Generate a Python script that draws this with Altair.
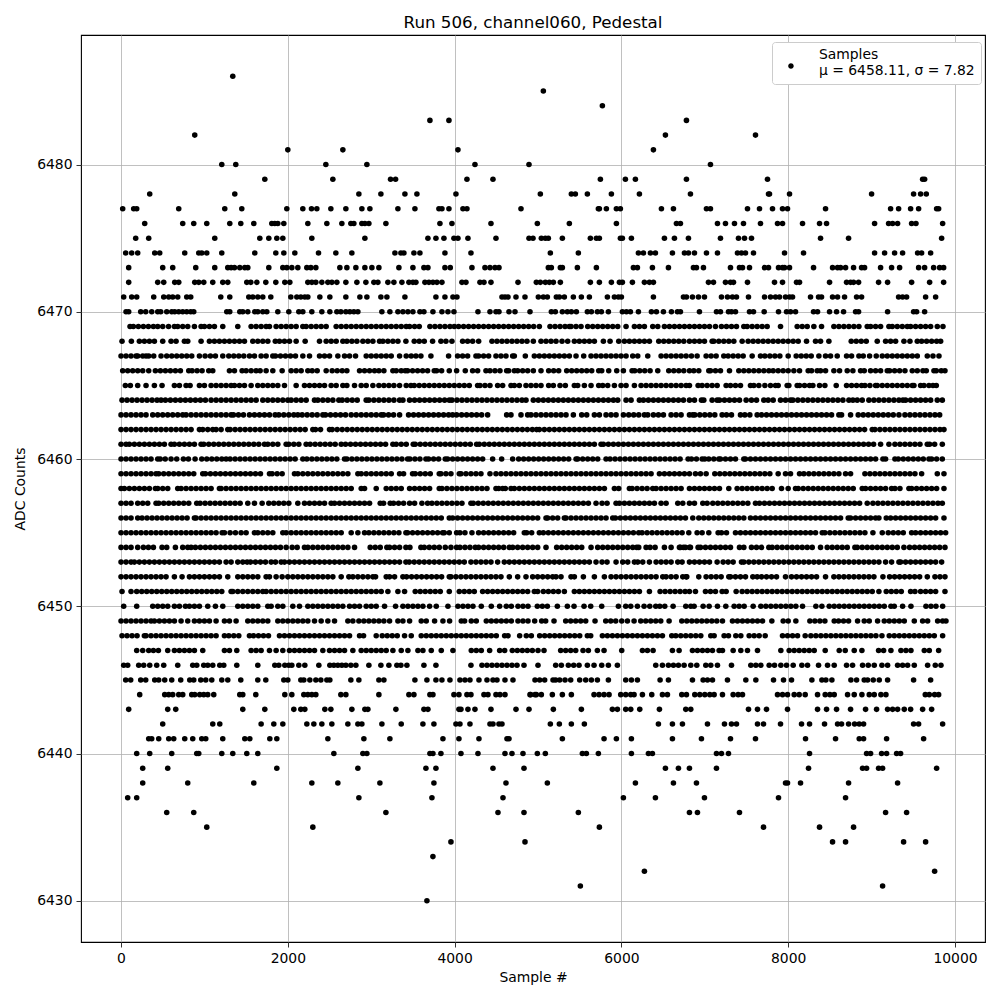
import altair as alt
import pandas as pd

title = "Run 506, channel060, Pedestal"
legend_lines = ["Samples", "\u03bc = 6458.11, \u03c3 = 7.82"]
x_ticks = [0, 2000, 4000, 6000, 8000, 10000]
y_ticks = [6430, 6440, 6450, 6460, 6470, 6480]

s6486 = [1340]
s6485 = [5064]
s6484 = [5772]
s6483 = [3704, 3932, 6780]
s6482 = [884, 6528, 7608]
s6481 = [2000, 2660, 4040, 6384]
s6480 = [1208, 1376, 2456, 2948, 4244, 4892, 7068]
s6479 = [1724, 2540, 3232, 3292, 4148, 4460, 5748, 6048, 6168, 6780, 7752, 9612, 9636]
s6478 = [344, 1364, 2852, 3116, 3404, 3548, 4016, 5028, 5400, 5448, 5592, 5880, 6216, 6828, 7764, 7776, 8016, 9000, 9504, 9588, 9656]
s6477 = [20, 152, 188, 692, 1244, 1448, 1988, 2180, 2284, 2348, 2516, 2696, 2888, 2984, 3320, 3524, 3812, 3848, 3932, 4100, 4148, 4796, 5724, 5736, 5820, 5940, 5988, 6480, 6624, 7020, 7068, 7512, 7656, 7812, 7932, 7992, 8448, 9228, 9324, 9468, 9564, 9780, 9804]
s6476 = [284, 740, 872, 1028, 1304, 1436, 1592, 1808, 1844, 1880, 1952, 2240, 2468, 2648, 2756, 2792, 2888, 2924, 2972, 3176, 3824, 3968, 4436, 4992, 5376, 5940, 6660, 6708, 7152, 7248, 7356, 7464, 7668, 7872, 7932, 8172, 8376, 8460, 9036, 9204, 9252, 9312, 9480, 9532, 9852]
s6475 = [176, 332, 1124, 1664, 1772, 1868, 1940, 2288, 2924, 3680, 3776, 3872, 3992, 4040, 4160, 4496, 4892, 4940, 5040, 5088, 5124, 5292, 5628, 5700, 5736, 5988, 6012, 6120, 6516, 6636, 6804, 7188, 7404, 7476, 7560, 8388, 8724, 9840]
s6474 = [56, 128, 200, 404, 464, 764, 932, 968, 1028, 1208, 1604, 1856, 1952, 2084, 2368, 2576, 2768, 3284, 3356, 3392, 3512, 3584, 3884, 4196, 5148, 5484, 6204, 6264, 6348, 6408, 6612, 6756, 6804, 6876, 7020, 7152, 7392, 7440, 7488, 7584, 7956, 8184, 9036, 9156, 9276, 9372, 9552, 9600, 9708]
s6473 = [92, 500, 620, 896, 1124, 1280, 1320, 1360, 1424, 1484, 1520, 1772, 1940, 1988, 2048, 2120, 2228, 2276, 2336, 2624, 2708, 2816, 2924, 3008, 3092, 3332, 3500, 3632, 3680, 3884, 3948, 4208, 4364, 4424, 4484, 4532, 5124, 5160, 5268, 5292, 5472, 5700, 6144, 6192, 6372, 6564, 6864, 6900, 6984, 7308, 7416, 7452, 7536, 7716, 7764, 7884, 7932, 7956, 8016, 8304, 8532, 8592, 8628, 8688, 8784, 8880, 8916, 9108, 9240, 9336, 9564, 9636, 9744, 9816, 9864]
s6472 = [92, 440, 512, 644, 692, 884, 932, 992, 1100, 1220, 1280, 1508, 1556, 1628, 1736, 1856, 1964, 2024, 2240, 2288, 2336, 2408, 2480, 2528, 2588, 2696, 2828, 2936, 3032, 3080, 3200, 3272, 3368, 3452, 3500, 3536, 3644, 3692, 3740, 3788, 3848, 4088, 4136, 4304, 4352, 4436, 4760, 4980, 5028, 5088, 5136, 5184, 5268, 5628, 5736, 5880, 5976, 6012, 6132, 6276, 6336, 6384, 7044, 7104, 7248, 7308, 7344, 7512, 7836, 7932, 8100, 8136, 8496, 8700, 8748, 8784, 8844, 9084, 9192, 9480, 9696, 9864]
s6471 = [32, 128, 188, 392, 512, 572, 620, 680, 788, 836, 1196, 1304, 1532, 1580, 1640, 1700, 1796, 2036, 2108, 2156, 2204, 2240, 2384, 2504, 2696, 2864, 2948, 3116, 3188, 3404, 3776, 3884, 3980, 4028, 4568, 4604, 4640, 4736, 4844, 5004, 5064, 5112, 5220, 5256, 5316, 5424, 5520, 5616, 5832, 5916, 5964, 6000, 6384, 6744, 6780, 6852, 6924, 6996, 7200, 7272, 7332, 7380, 7524, 7716, 7788, 7848, 7896, 7968, 8016, 8052, 8268, 8364, 8400, 8532, 8592, 8676, 8820, 8880, 9324, 9372, 9420, 9648, 9768]
s6470 = [60, 92, 236, 296, 368, 440, 476, 548, 608, 644, 692, 740, 788, 836, 872, 1268, 1304, 1424, 1460, 1520, 1604, 1640, 1700, 1748, 1880, 2012, 2132, 2180, 2288, 2408, 2504, 2588, 2636, 2696, 2744, 2792, 2840, 3128, 3224, 3320, 3380, 3440, 3500, 3584, 3632, 3740, 3848, 3920, 3992, 4280, 4424, 4496, 4532, 4652, 4724, 4904, 5160, 5208, 5292, 5352, 5400, 5460, 5592, 5640, 5712, 5760, 5844, 6012, 6060, 6108, 6204, 6360, 6420, 6504, 6600, 6672, 6708, 6936, 7140, 7188, 7284, 7320, 7368, 7536, 7584, 7712, 7884, 7980, 8028, 8088, 8304, 8352, 8496, 8580, 8664, 8808, 8844, 9192, 9504, 9540, 9636]
s6469 = [108, 148, 208, 268, 328, 388, 440, 500, 570, 640, 680, 740, 800, 880, 960, 1000, 1060, 1120, 1220, 1400, 1560, 1620, 1680, 1740, 1780, 1860, 1920, 1980, 2040, 2100, 2180, 2220, 2280, 2340, 2400, 2460, 2580, 2640, 2700, 2760, 2820, 2880, 2940, 3000, 3060, 3120, 3180, 3240, 3300, 3360, 3420, 3460, 3520, 3576, 3704, 3764, 3824, 3884, 3944, 3996, 4048, 4108, 4168, 4228, 4288, 4348, 4408, 4468, 4528, 4588, 4648, 4708, 4768, 4828, 4888, 4948, 5016, 5144, 5204, 5264, 5324, 5376, 5396, 5456, 5516, 5596, 5656, 5716, 5776, 5836, 5896, 5956, 6056, 6156, 6216, 6276, 6376, 6436, 6516, 6576, 6636, 6696, 6756, 6816, 6876, 6936, 6996, 7056, 7128, 7200, 7260, 7320, 7380, 7468, 7508, 7568, 7628, 7688, 7748, 7908, 8108, 8168, 8228, 8308, 8400, 8548, 8608, 8668, 8728, 8788, 8848, 8948, 8988, 9048, 9108, 9208, 9248, 9308, 9368, 9428, 9468, 9528, 9588, 9648, 9708, 9788, 9856]
s6468 = [12, 124, 220, 280, 340, 400, 500, 600, 660, 760, 800, 960, 1060, 1120, 1180, 1240, 1300, 1360, 1420, 1480, 1580, 1640, 1700, 1760, 1850, 1900, 1960, 2020, 2100, 2208, 2380, 2460, 2520, 2580, 2660, 2708, 2768, 2828, 2900, 2960, 3020, 3100, 3140, 3200, 3260, 3320, 3416, 3516, 3576, 3636, 3736, 3836, 3896, 3968, 4096, 4156, 4216, 4288, 4448, 4508, 4568, 4628, 4688, 4748, 4808, 4868, 4944, 5036, 5096, 5156, 5216, 5288, 5356, 5436, 5496, 5556, 5616, 5676, 5784, 5864, 5968, 6036, 6096, 6156, 6216, 6276, 6336, 6448, 6508, 6568, 6628, 6688, 6748, 6816, 6876, 6936, 6996, 7088, 7108, 7168, 7228, 7288, 7348, 7448, 7520, 7580, 7640, 7700, 7760, 7820, 7880, 7940, 8000, 8060, 8120, 8220, 8328, 8388, 8488, 8756, 8816, 8876, 8936, 9068, 9168, 9228, 9288, 9388, 9460, 9548, 9600, 9660, 9720, 9780, 9828]
s6467 = [0, 60, 120, 180, 200, 260, 300, 332, 392, 480, 548, 608, 668, 728, 788, 848, 940, 1008, 1072, 1132, 1220, 1292, 1352, 1412, 1472, 1540, 1600, 1680, 1740, 1820, 1852, 1912, 1972, 2032, 2092, 2180, 2260, 2380, 2440, 2500, 2600, 2680, 2740, 2812, 2940, 3000, 3060, 3120, 3180, 3240, 3340, 3420, 3480, 3536, 3596, 3716, 3928, 4036, 4096, 4156, 4256, 4288, 4348, 4408, 4496, 4556, 4616, 4696, 4716, 4848, 4956, 5016, 5076, 5136, 5196, 5256, 5316, 5376, 5456, 5548, 5636, 5696, 5756, 5816, 5876, 5936, 5996, 6056, 6136, 6196, 6316, 6476, 6536, 6596, 6656, 6716, 6776, 6840, 6908, 7016, 7076, 7136, 7228, 7280, 7340, 7400, 7460, 7568, 7668, 7720, 7780, 7840, 7900, 8000, 8096, 8156, 8216, 8276, 8368, 8448, 8508, 8588, 8700, 8760, 8848, 8900, 8976, 9056, 9128, 9188, 9248, 9308, 9368, 9428, 9488, 9548, 9668, 9736, 9808]
s6466 = [20, 80, 140, 200, 260, 332, 412, 472, 532, 592, 652, 712, 812, 852, 912, 972, 1052, 1100, 1300, 1360, 1452, 1500, 1560, 1620, 1668, 1740, 1820, 1932, 2040, 2100, 2160, 2240, 2292, 2352, 2460, 2532, 2592, 2652, 2708, 2860, 2920, 2980, 3040, 3092, 3152, 3260, 3300, 3360, 3408, 3436, 3496, 3556, 3616, 3676, 3756, 3784, 3844, 3936, 4024, 4128, 4216, 4276, 4376, 4424, 4484, 4544, 4624, 4648, 4716, 4756, 4816, 4876, 4944, 5036, 5128, 5188, 5248, 5344, 5404, 5464, 5524, 5584, 5644, 5728, 5764, 5848, 5944, 6024, 6128, 6160, 6220, 6280, 6344, 6436, 6568, 6628, 6688, 6748, 6816, 6868, 6928, 7048, 7068, 7128, 7188, 7296, 7408, 7468, 7528, 7588, 7648, 7708, 7768, 7820, 7880, 7940, 8000, 8068, 8136, 8240, 8280, 8348, 8388, 8448, 8548, 8616, 8708, 8776, 8868, 8912, 8988, 9048, 9108, 9188, 9216, 9276, 9336, 9400, 9488, 9548, 9616, 9656, 9748, 9776, 9836, 9880]
s6465 = [52, 112, 200, 300, 400, 492, 640, 700, 780, 828, 940, 1000, 1080, 1140, 1200, 1260, 1320, 1360, 1420, 1480, 1560, 1640, 1700, 1760, 1820, 1880, 1960, 2100, 2200, 2260, 2320, 2380, 2440, 2520, 2580, 2660, 2708, 2800, 2880, 2940, 3020, 3092, 3152, 3212, 3272, 3340, 3420, 3476, 3516, 3576, 3636, 3696, 3756, 3816, 3876, 3936, 3996, 4056, 4116, 4176, 4276, 4304, 4364, 4424, 4516, 4576, 4676, 4716, 4776, 4856, 4916, 4976, 5036, 5128, 5184, 5264, 5328, 5436, 5476, 5556, 5636, 5728, 5776, 5836, 5916, 5996, 6056, 6156, 6236, 6296, 6356, 6416, 6476, 6536, 6596, 6656, 6716, 6776, 6816, 6920, 6968, 7028, 7088, 7148, 7256, 7308, 7368, 7428, 7548, 7588, 7648, 7720, 7788, 7848, 7880, 7988, 8008, 8108, 8136, 8196, 8256, 8296, 8376, 8440, 8576, 8700, 8760, 8820, 8880, 8920, 8980, 9048, 9068, 9128, 9188, 9248, 9308, 9368, 9428, 9488, 9508, 9588, 9628, 9688, 9736, 9776]
s6464 = [12, 72, 132, 192, 252, 312, 372, 432, 480, 532, 592, 652, 712, 772, 832, 892, 952, 1012, 1080, 1140, 1200, 1260, 1320, 1380, 1440, 1500, 1560, 1620, 1700, 1760, 1820, 1880, 1940, 2000, 2040, 2100, 2160, 2220, 2320, 2360, 2420, 2480, 2540, 2612, 2652, 2712, 2772, 2832, 2940, 2972, 3032, 3092, 3152, 3212, 3272, 3340, 3380, 3460, 3520, 3580, 3640, 3700, 3760, 3820, 3880, 3936, 3968, 4028, 4088, 4148, 4208, 4268, 4328, 4388, 4448, 4508, 4568, 4628, 4688, 4748, 4808, 4856, 4944, 5004, 5064, 5124, 5184, 5244, 5304, 5364, 5424, 5484, 5544, 5604, 5664, 5724, 5784, 5844, 5904, 5956, 6056, 6116, 6216, 6264, 6324, 6384, 6444, 6504, 6564, 6624, 6684, 6744, 6816, 6876, 6960, 6988, 7088, 7148, 7176, 7236, 7296, 7356, 7416, 7496, 7560, 7620, 7708, 7760, 7820, 7908, 7968, 8028, 8056, 8116, 8176, 8236, 8296, 8356, 8416, 8476, 8536, 8596, 8656, 8728, 8776, 8828, 8888, 8968, 9028, 9088, 9148, 9208, 9268, 9328, 9376, 9408, 9468, 9528, 9588, 9648, 9708, 9788, 9848]
s6463 = [0, 60, 120, 180, 240, 300, 380, 440, 500, 560, 620, 680, 740, 780, 840, 900, 960, 1020, 1080, 1140, 1200, 1260, 1320, 1348, 1408, 1468, 1540, 1600, 1660, 1720, 1780, 1848, 1892, 1952, 2012, 2072, 2120, 2172, 2232, 2292, 2352, 2420, 2452, 2512, 2572, 2632, 2692, 2760, 2820, 2880, 2940, 3000, 3060, 3120, 3148, 3208, 3268, 3340, 3448, 3508, 3568, 3628, 3688, 3748, 3808, 3868, 3928, 3976, 4024, 4084, 4144, 4204, 4264, 4324, 4396, 4624, 4676, 4796, 4876, 4916, 4976, 5036, 5096, 5156, 5216, 5276, 5336, 5424, 5524, 5584, 5676, 5736, 5816, 5876, 5936, 6024, 6088, 6148, 6208, 6276, 6316, 6384, 6444, 6504, 6596, 6656, 6716, 6816, 6856, 6880, 6940, 7000, 7060, 7120, 7208, 7260, 7320, 7428, 7480, 7540, 7628, 7680, 7740, 7800, 7860, 7920, 7980, 8040, 8100, 8160, 8220, 8280, 8340, 8400, 8460, 8520, 8608, 8640, 8748, 8840, 8900, 8960, 9020, 9080, 9140, 9200, 9260, 9328, 9400, 9460, 9520, 9580, 9640, 9700, 9760, 9816]
s6462 = [0, 60, 120, 180, 240, 300, 360, 420, 480, 540, 600, 660, 720, 780, 840, 940, 980, 1040, 1100, 1140, 1200, 1280, 1308, 1368, 1428, 1488, 1548, 1608, 1668, 1728, 1788, 1848, 1908, 1968, 2028, 2088, 2148, 2208, 2300, 2332, 2392, 2500, 2532, 2592, 2652, 2712, 2772, 2832, 2892, 2952, 3012, 3072, 3132, 3192, 3252, 3312, 3372, 3432, 3492, 3552, 3612, 3672, 3732, 3792, 3852, 3912, 3972, 4032, 4092, 4152, 4212, 4272, 4332, 4392, 4452, 4512, 4572, 4632, 4692, 4752, 4812, 4872, 4932, 4984, 5016, 5076, 5136, 5196, 5256, 5316, 5376, 5436, 5496, 5556, 5616, 5676, 5736, 5796, 5856, 5916, 5976, 6036, 6096, 6156, 6216, 6276, 6336, 6396, 6456, 6516, 6576, 6636, 6696, 6756, 6816, 6876, 6936, 6996, 7056, 7116, 7176, 7236, 7296, 7356, 7416, 7476, 7536, 7596, 7656, 7716, 7776, 7836, 7896, 7956, 8016, 8076, 8136, 8196, 8256, 8316, 8376, 8436, 8496, 8556, 8616, 8676, 8736, 8796, 8856, 8916, 9008, 9040, 9100, 9160, 9220, 9280, 9340, 9400, 9460, 9520, 9580, 9640, 9700, 9760, 9820, 9868]
s6461 = [0, 60, 100, 160, 220, 280, 340, 400, 460, 520, 600, 640, 700, 760, 820, 880, 960, 992, 1052, 1112, 1172, 1232, 1292, 1352, 1412, 1472, 1532, 1592, 1652, 1720, 1760, 1820, 1880, 1980, 2012, 2072, 2132, 2220, 2268, 2328, 2388, 2448, 2508, 2568, 2640, 2692, 2752, 2812, 2872, 2932, 2992, 3052, 3112, 3172, 3260, 3300, 3360, 3420, 3504, 3528, 3588, 3648, 3708, 3768, 3828, 3888, 3948, 4008, 4068, 4128, 4188, 4264, 4296, 4356, 4416, 4476, 4536, 4596, 4656, 4716, 4776, 4836, 4896, 4956, 5016, 5076, 5136, 5196, 5256, 5316, 5376, 5436, 5496, 5556, 5616, 5676, 5756, 5784, 5844, 5904, 5964, 6024, 6084, 6144, 6204, 6264, 6324, 6384, 6444, 6504, 6564, 6624, 6684, 6744, 6804, 6864, 6924, 6984, 7044, 7104, 7164, 7224, 7284, 7344, 7404, 7464, 7524, 7584, 7644, 7704, 7764, 7824, 7884, 7944, 8004, 8064, 8124, 8184, 8244, 8304, 8364, 8424, 8484, 8544, 8604, 8664, 8724, 8784, 8844, 8904, 8964, 9024, 9108, 9208, 9280, 9340, 9400, 9460, 9520, 9580, 9668, 9696, 9756, 9848]
s6460 = [0, 60, 120, 180, 240, 300, 360, 440, 470, 530, 600, 668, 748, 808, 888, 968, 1028, 1088, 1148, 1208, 1260, 1308, 1368, 1428, 1488, 1548, 1608, 1668, 1728, 1788, 1848, 1908, 1968, 2028, 2088, 2180, 2228, 2288, 2348, 2408, 2468, 2528, 2588, 2680, 2708, 2768, 2828, 2888, 2948, 3008, 3068, 3128, 3188, 3248, 3308, 3368, 3436, 3464, 3524, 3584, 3656, 3688, 3748, 3808, 3888, 3916, 3976, 4036, 4096, 4156, 4216, 4276, 4336, 4456, 4564, 4696, 4768, 4828, 4888, 4948, 5008, 5068, 5128, 5188, 5248, 5308, 5368, 5456, 5476, 5536, 5596, 5656, 5716, 5816, 5864, 5924, 5984, 6044, 6104, 6164, 6224, 6284, 6344, 6404, 6464, 6524, 6584, 6644, 6704, 6800, 6840, 6900, 6968, 7000, 7048, 7108, 7168, 7188, 7248, 7308, 7368, 7468, 7488, 7548, 7608, 7668, 7728, 7788, 7848, 7908, 7968, 8028, 8088, 8148, 8208, 8268, 8328, 8388, 8448, 8508, 8568, 8628, 8688, 8748, 8808, 8868, 8928, 8988, 9048, 9136, 9168, 9280, 9320, 9380, 9440, 9500, 9560, 9620, 9688, 9720, 9780, 9848]
s6459 = [0, 60, 120, 180, 240, 300, 360, 420, 452, 512, 572, 632, 692, 752, 812, 872, 980, 1012, 1072, 1132, 1192, 1252, 1312, 1372, 1432, 1492, 1552, 1612, 1672, 1780, 1812, 1872, 1932, 2080, 2120, 2180, 2240, 2300, 2360, 2420, 2480, 2540, 2600, 2660, 2720, 2840, 2880, 2940, 3000, 3060, 3120, 3180, 3240, 3340, 3388, 3496, 3528, 3588, 3648, 3708, 3816, 3836, 3896, 3956, 4056, 4076, 4136, 4196, 4256, 4316, 4424, 4496, 4556, 4616, 4676, 4736, 4796, 4856, 4916, 4976, 5036, 5096, 5156, 5216, 5276, 5336, 5396, 5456, 5516, 5576, 5636, 5696, 5756, 5816, 5876, 5936, 5996, 6056, 6116, 6176, 6236, 6296, 6356, 6456, 6516, 6576, 6636, 6696, 6756, 6816, 6888, 6948, 7016, 7120, 7180, 7240, 7300, 7360, 7420, 7480, 7540, 7600, 7660, 7720, 7780, 7880, 7968, 8028, 8136, 8188, 8248, 8308, 8368, 8428, 8488, 8548, 8608, 8688, 8748, 8920, 8980, 9040, 9100, 9160, 9220, 9280, 9340, 9400, 9460, 9520, 9600, 9788, 9868]
s6458 = [0, 40, 100, 160, 220, 280, 340, 412, 440, 500, 560, 680, 720, 780, 840, 900, 960, 1020, 1080, 1180, 1200, 1260, 1320, 1380, 1440, 1500, 1560, 1620, 1680, 1740, 1800, 1860, 1920, 1980, 2040, 2100, 2160, 2220, 2280, 2340, 2400, 2460, 2520, 2580, 2640, 2700, 2760, 2880, 2920, 3060, 3180, 3240, 3300, 3360, 3460, 3520, 3580, 3640, 3700, 3816, 3848, 3908, 3968, 4028, 4088, 4148, 4208, 4268, 4328, 4388, 4496, 4528, 4576, 4608, 4676, 4716, 4776, 4836, 4896, 4956, 5016, 5076, 5136, 5196, 5256, 5316, 5376, 5436, 5496, 5556, 5616, 5676, 5736, 5796, 5916, 5968, 6096, 6128, 6188, 6248, 6308, 6376, 6416, 6476, 6536, 6596, 6656, 6716, 6816, 6876, 6936, 6996, 7056, 7116, 7176, 7288, 7388, 7448, 7508, 7568, 7628, 7688, 7748, 7808, 7920, 8000, 8088, 8120, 8180, 8240, 8300, 8360, 8420, 8480, 8540, 8600, 8660, 8720, 8780, 8888, 8928, 8988, 9048, 9108, 9168, 9240, 9280, 9340, 9448, 9480, 9540, 9600, 9660, 9720, 9780, 9868]
s6457 = [0, 60, 120, 200, 260, 320, 420, 452, 512, 572, 632, 692, 752, 812, 908, 948, 1008, 1068, 1128, 1188, 1248, 1308, 1368, 1428, 1520, 1600, 1692, 1772, 1832, 1892, 1952, 2012, 2120, 2200, 2260, 2320, 2380, 2440, 2520, 2560, 2620, 2680, 2740, 2800, 2860, 2920, 2980, 3108, 3148, 3228, 3268, 3328, 3388, 3460, 3520, 3608, 3676, 3728, 3788, 3848, 3908, 3968, 4028, 4088, 4196, 4224, 4284, 4344, 4404, 4464, 4524, 4584, 4644, 4704, 4764, 4824, 4884, 4944, 5004, 5064, 5124, 5184, 5244, 5304, 5364, 5424, 5484, 5544, 5604, 5696, 5768, 5828, 5936, 5976, 6036, 6096, 6156, 6216, 6276, 6336, 6396, 6476, 6536, 6676, 6736, 6816, 6876, 6976, 7028, 7096, 7156, 7216, 7276, 7336, 7396, 7456, 7516, 7608, 7656, 7716, 7776, 7836, 7896, 7956, 8016, 8076, 8136, 8196, 8256, 8316, 8376, 8436, 8496, 8556, 8616, 8676, 8736, 8796, 8856, 8948, 9016, 9076, 9136, 9196, 9256, 9316, 9376, 9436, 9496, 9556, 9616, 9676, 9736, 9796, 9848]
s6456 = [0, 60, 120, 200, 252, 312, 372, 432, 492, 552, 612, 672, 732, 792, 880, 900, 960, 1020, 1080, 1140, 1200, 1260, 1320, 1380, 1440, 1500, 1560, 1620, 1680, 1740, 1800, 1860, 1920, 1980, 2040, 2100, 2160, 2220, 2280, 2340, 2400, 2460, 2520, 2580, 2640, 2700, 2760, 2820, 2880, 2940, 3000, 3060, 3120, 3180, 3240, 3300, 3360, 3420, 3480, 3540, 3600, 3660, 3720, 3780, 3840, 3936, 3976, 4036, 4096, 4156, 4216, 4276, 4336, 4396, 4456, 4516, 4576, 4636, 4696, 4756, 4816, 4876, 4936, 4996, 5096, 5116, 5176, 5236, 5316, 5336, 5396, 5456, 5516, 5576, 5636, 5696, 5756, 5816, 5896, 5928, 5988, 6048, 6108, 6168, 6228, 6288, 6348, 6408, 6468, 6528, 6588, 6648, 6708, 6768, 6856, 6928, 6988, 7048, 7108, 7168, 7228, 7288, 7348, 7408, 7468, 7548, 7608, 7668, 7728, 7788, 7848, 7908, 7968, 8028, 8088, 8148, 8208, 8268, 8328, 8388, 8448, 8508, 8568, 8628, 8720, 8748, 8808, 8868, 8928, 8988, 9048, 9088, 9176, 9228, 9288, 9348, 9408, 9468, 9528, 9588, 9648, 9708, 9768, 9868]
s6455 = [0, 60, 120, 180, 240, 300, 360, 420, 480, 540, 600, 660, 720, 780, 840, 900, 960, 1020, 1080, 1140, 1212, 1240, 1308, 1372, 1440, 1500, 1600, 1640, 1700, 1760, 1820, 1940, 1980, 2040, 2100, 2160, 2220, 2280, 2340, 2400, 2460, 2520, 2580, 2640, 2760, 2840, 2920, 2972, 3032, 3092, 3152, 3212, 3272, 3332, 3416, 3436, 3496, 3556, 3616, 3676, 3736, 3796, 3856, 3876, 3936, 4024, 4064, 4124, 4208, 4288, 4348, 4408, 4468, 4528, 4588, 4648, 4708, 4836, 4864, 4924, 5016, 5064, 5124, 5184, 5244, 5304, 5364, 5424, 5484, 5544, 5604, 5664, 5724, 5784, 5844, 5904, 5964, 6024, 6084, 6144, 6208, 6248, 6308, 6368, 6428, 6488, 6548, 6608, 6668, 6728, 6808, 6908, 6968, 7048, 7160, 7200, 7260, 7368, 7428, 7488, 7548, 7608, 7668, 7728, 7788, 7848, 7908, 7968, 8028, 8088, 8148, 8208, 8268, 8328, 8408, 8440, 8500, 8560, 8620, 8680, 8740, 8800, 8860, 8920, 9016, 9128, 9200, 9260, 9320, 9380, 9480, 9528, 9588, 9648, 9708, 9768, 9828, 9888]
s6454 = [0, 60, 120, 200, 268, 328, 388, 492, 548, 652, 740, 800, 840, 892, 952, 1012, 1072, 1132, 1192, 1252, 1312, 1372, 1432, 1492, 1552, 1612, 1672, 1732, 1792, 1852, 1912, 1980, 2052, 2112, 2200, 2240, 2300, 2360, 2420, 2480, 2540, 2600, 2660, 2720, 2800, 2988, 3048, 3108, 3188, 3220, 3280, 3340, 3416, 3464, 3596, 3636, 3696, 3756, 3816, 3888, 3956, 4024, 4064, 4124, 4184, 4248, 4288, 4348, 4408, 4468, 4528, 4588, 4656, 4696, 4756, 4816, 4876, 4936, 4996, 5096, 5224, 5284, 5344, 5404, 5464, 5524, 5636, 5716, 5776, 5836, 5896, 5956, 6016, 6076, 6136, 6184, 6208, 6296, 6344, 6404, 6516, 6596, 6696, 6744, 6816, 6708, 6768, 6828, 6920, 6948, 7008, 7068, 7128, 7188, 7248, 7308, 7416, 7468, 7560, 7620, 7680, 7768, 7808, 7868, 7928, 7988, 8048, 8108, 8168, 8228, 8288, 8388, 8468, 8528, 8588, 8648, 8708, 8800, 8828, 8888, 8948, 9008, 9068, 9128, 9188, 9248, 9308, 9388, 9456, 9516, 9576, 9636, 9696, 9756, 9816, 9880]
s6453 = [0, 60, 120, 160, 220, 280, 340, 400, 460, 520, 580, 640, 700, 760, 820, 880, 940, 1000, 1060, 1120, 1180, 1260, 1320, 1400, 1460, 1512, 1552, 1612, 1672, 1732, 1800, 1852, 1920, 1960, 2020, 2080, 2140, 2200, 2260, 2320, 2380, 2440, 2500, 2560, 2620, 2680, 2740, 2800, 2860, 2920, 2980, 3040, 3100, 3160, 3220, 3280, 3340, 3416, 3456, 3516, 3576, 3636, 3696, 3756, 3816, 3876, 3936, 3996, 4056, 4116, 4196, 4256, 4316, 4376, 4436, 4516, 4596, 4656, 4716, 4776, 4836, 4896, 4956, 5016, 5076, 5136, 5196, 5256, 5316, 5376, 5436, 5496, 5556, 5616, 5696, 5768, 5828, 5936, 6016, 6076, 6156, 6196, 6256, 6336, 6416, 6476, 6536, 6596, 6676, 6728, 6816, 6876, 6936, 6996, 7056, 7148, 7220, 7280, 7340, 7440, 7468, 7528, 7588, 7648, 7708, 7768, 7828, 7888, 7948, 8008, 8068, 8128, 8188, 8248, 8308, 8368, 8428, 8488, 8548, 8608, 8668, 8728, 8788, 8848, 8908, 8968, 9028, 9088, 9168, 9240, 9328, 9348, 9408, 9468, 9528, 9588, 9648, 9708, 9768, 9840]
s6452 = [0, 60, 120, 180, 240, 300, 360, 420, 480, 540, 640, 732, 820, 880, 940, 1000, 1060, 1120, 1180, 1280, 1400, 1460, 1520, 1580, 1640, 1740, 1780, 1860, 1932, 2000, 2060, 2120, 2180, 2240, 2300, 2360, 2420, 2480, 2540, 2640, 2732, 2780, 2840, 2900, 2960, 3020, 3052, 3180, 3220, 3280, 3380, 3424, 3484, 3544, 3604, 3664, 3724, 3784, 3844, 3936, 3956, 4016, 4076, 4136, 4196, 4256, 4316, 4376, 4436, 4496, 4556, 4656, 4756, 4856, 4936, 4996, 5056, 5116, 5176, 5216, 5276, 5396, 5436, 5544, 5676, 5796, 5876, 5936, 5996, 6056, 6116, 6176, 6236, 6296, 6356, 6416, 6496, 6536, 6596, 6656, 6736, 6784, 6776, 6928, 7016, 7076, 7136, 7196, 7288, 7308, 7368, 7428, 7488, 7576, 7628, 7680, 7740, 7800, 7860, 7968, 8040, 8100, 8160, 8220, 8280, 8340, 8448, 8548, 8608, 8668, 8728, 8788, 8848, 8908, 8968, 9028, 9136, 9216, 9276, 9336, 9396, 9456, 9516, 9576, 9668, 9760, 9820, 9880]
s6451 = [12, 120, 188, 248, 308, 368, 428, 488, 548, 608, 668, 728, 788, 848, 908, 968, 1028, 1088, 1148, 1208, 1320, 1340, 1400, 1460, 1520, 1580, 1640, 1700, 1740, 1800, 1860, 1920, 1980, 2040, 2100, 2160, 2220, 2280, 2340, 2400, 2460, 2520, 2580, 2640, 2700, 2760, 2820, 2880, 2940, 3000, 3060, 3120, 3200, 3320, 3400, 3528, 3588, 3648, 3708, 3768, 3828, 3936, 4056, 4116, 4176, 4236, 4336, 4396, 4456, 4516, 4576, 4636, 4696, 4756, 4816, 4876, 4956, 4996, 5064, 5124, 5184, 5244, 5316, 5436, 5496, 5556, 5616, 5676, 5736, 5796, 5856, 5916, 5976, 6036, 6096, 6156, 6216, 6336, 6464, 6524, 6584, 6644, 6704, 6764, 6816, 6888, 7008, 7068, 7128, 7208, 7256, 7376, 7448, 7508, 7568, 7628, 7688, 7748, 7808, 7868, 7928, 7988, 8048, 8108, 8168, 8228, 8288, 8348, 8408, 8468, 8528, 8588, 8648, 8708, 8768, 8828, 8888, 8948, 9008, 9088, 9176, 9236, 9296, 9356, 9468, 9520, 9588, 9648, 9708, 9768, 9880]
s6450 = [32, 188, 380, 440, 500, 560, 640, 700, 772, 820, 880, 940, 1040, 1132, 1220, 1400, 1460, 1520, 1580, 1640, 1760, 1800, 1880, 1940, 2060, 2140, 2240, 2300, 2360, 2420, 2480, 2540, 2600, 2660, 2740, 2800, 2860, 2940, 3000, 3060, 3160, 3292, 3380, 3440, 3500, 3560, 3620, 3700, 3780, 3920, 4040, 4100, 4160, 4220, 4320, 4440, 4540, 4620, 4680, 4760, 4820, 4880, 4992, 5052, 5112, 5232, 5352, 5432, 5552, 5632, 5764, 5964, 6052, 6112, 6192, 6272, 6340, 6412, 6460, 6520, 6620, 6772, 6832, 6872, 6980, 7052, 7152, 7252, 7352, 7412, 7472, 7580, 7672, 7732, 7792, 7852, 7912, 7972, 8032, 8092, 8172, 8332, 8404, 8492, 8552, 8612, 8672, 8732, 8792, 8852, 8912, 8972, 9032, 9092, 9152, 9232, 9272, 9372, 9472, 9652, 9712, 9772, 9852]
s6449 = [0, 60, 120, 180, 240, 300, 360, 400, 460, 520, 580, 640, 720, 800, 880, 940, 1000, 1060, 1140, 1240, 1300, 1380, 1520, 1580, 1640, 1700, 1760, 1880, 1940, 2000, 2060, 2120, 2180, 2240, 2320, 2400, 2480, 2560, 2720, 2780, 2852, 2912, 2972, 3032, 3092, 3152, 3220, 3320, 3380, 3460, 3600, 3660, 3760, 3860, 3940, 4080, 4120, 4200, 4260, 4380, 4440, 4500, 4560, 4620, 4680, 4760, 4820, 4880, 4960, 5044, 5092, 5192, 5332, 5392, 5452, 5512, 5572, 5684, 5812, 5872, 5932, 6004, 6072, 6152, 6232, 6292, 6352, 6412, 6472, 6572, 6724, 6784, 6844, 6904, 6964, 7024, 7084, 7144, 7212, 7332, 7392, 7452, 7512, 7572, 7632, 7692, 7804, 7940, 8000, 8092, 8260, 8320, 8380, 8440, 8552, 8604, 8664, 8724, 8832, 8912, 8972, 9072, 9152, 9212, 9272, 9332, 9392, 9512, 9612, 9672, 9792, 9852, 9892]
s6448 = [12, 72, 132, 192, 280, 300, 360, 420, 480, 540, 600, 660, 720, 780, 840, 900, 960, 1020, 1080, 1140, 1240, 1292, 1352, 1412, 1540, 1588, 1648, 1708, 1768, 1900, 1960, 2020, 2080, 2140, 2200, 2260, 2320, 2380, 2440, 2500, 2560, 2620, 2680, 2740, 2860, 2908, 3060, 3132, 3192, 3252, 3312, 3400, 3480, 3600, 3660, 3720, 3780, 3840, 3900, 3960, 4020, 4080, 4140, 4200, 4260, 4320, 4380, 4440, 4500, 4600, 4640, 4780, 4860, 4920, 5020, 5080, 5140, 5200, 5260, 5320, 5380, 5440, 5500, 5592, 5632, 5772, 5832, 5892, 5952, 6012, 6072, 6132, 6192, 6252, 6312, 6372, 6432, 6492, 6604, 6652, 6712, 6772, 6832, 6892, 6952, 7072, 7112, 7232, 7284, 7372, 7432, 7532, 7592, 7652, 7724, 7932, 7992, 8052, 8112, 8204, 8272, 8332, 8392, 8452, 8512, 8572, 8632, 8692, 8752, 8812, 8872, 8932, 8992, 9052, 9124, 9212, 9272, 9332, 9392, 9452, 9512, 9572, 9632, 9692, 9752, 9852]
s6447 = [188, 260, 332, 388, 448, 560, 640, 700, 760, 820, 880, 980, 1240, 1300, 1388, 1560, 1620, 1680, 1780, 1860, 1940, 2020, 2080, 2140, 2200, 2260, 2320, 2420, 2500, 2560, 2620, 2680, 2780, 2880, 2940, 3000, 3060, 3120, 3180, 3260, 3360, 3440, 3560, 3620, 3720, 3840, 3980, 4200, 4260, 4320, 4420, 4540, 4600, 4692, 4752, 4812, 4872, 4932, 5000, 5072, 5272, 5332, 5392, 5452, 5540, 5604, 5712, 5792, 6004, 6252, 6312, 6380, 6612, 6692, 6852, 6912, 6972, 7032, 7092, 7172, 7212, 7340, 7432, 7512, 7632, 7912, 8012, 8072, 8132, 8192, 8252, 8312, 8444, 8612, 8684, 8792, 8884, 9084, 9144, 9232, 9352, 9412, 9472, 9632, 9692, 9804]
s6446 = [32, 80, 212, 272, 344, 428, 512, 680, 860, 908, 992, 1040, 1100, 1184, 1232, 1388, 1640, 1844, 1892, 1964, 2012, 2048, 2132, 2204, 2372, 2504, 2552, 2600, 2648, 2696, 2756, 2816, 2972, 3116, 3212, 3308, 3356, 3428, 3632, 3776, 4196, 4328, 4388, 4448, 4508, 4568, 4628, 4688, 4748, 4832, 5000, 5212, 5280, 5364, 5428, 5492, 5592, 5672, 5764, 5844, 5952, 6412, 6492, 6564, 6624, 6684, 6752, 6832, 6904, 7012, 7072, 7152, 7320, 7552, 7612, 7672, 7772, 7836, 7912, 7980, 8060, 8164, 8232, 8364, 8472, 8552, 8700, 8772, 8892, 8960, 9032, 9124, 9192, 9312, 9372, 9432, 9512, 9672, 9764, 9832]
s6445 = [56, 116, 236, 296, 404, 452, 524, 608, 716, 824, 872, 956, 1016, 1088, 1208, 1280, 1436, 1640, 1736, 1952, 2000, 2156, 2192, 2264, 2336, 2396, 2468, 2504, 2756, 2852, 3092, 3152, 3524, 3668, 3776, 3848, 3944, 4064, 4124, 4184, 4292, 4388, 4460, 4508, 4604, 4700, 4964, 5020, 5080, 5180, 5212, 5260, 5324, 5392, 5500, 5572, 5640, 5712, 5844, 6052, 6120, 6192, 6464, 6564, 6852, 6980, 7032, 7092, 7272, 7492, 7612, 7824, 7944, 8040, 8284, 8404, 8452, 8524, 8752, 8820, 8912, 8952, 9020, 9092, 9192, 9504, 9708]
s6444 = [224, 524, 572, 620, 692, 740, 848, 884, 944, 992, 1040, 1112, 1424, 1460, 1616, 1964, 2048, 2192, 2240, 2288, 2336, 2636, 2696, 3092, 3452, 3512, 3704, 3740, 3992, 4052, 4148, 4196, 4352, 4400, 4496, 4544, 4604, 4904, 4964, 4912, 4980, 5040, 5172, 5292, 5400, 5672, 5732, 5792, 5852, 5992, 6052, 6112, 6152, 6252, 6364, 6492, 6552, 6724, 6780, 6880, 6940, 7000, 7060, 7112, 7212, 7340, 7400, 7452, 7872, 7932, 7992, 8072, 8132, 8204, 8352, 8444, 8500, 8552, 8712, 8792, 8884, 8972, 9032, 9112, 9172, 9644, 9692, 9756, 9804]
s6443 = [92, 560, 656, 1460, 1724, 2072, 2156, 2204, 2444, 2516, 2768, 2924, 2960, 3296, 3632, 3680, 4052, 4076, 4160, 4244, 4436, 4736, 4892, 5184, 5520, 5892, 5952, 6052, 6112, 6220, 6456, 6772, 6832, 7524, 7632, 7740, 7992, 8352, 8460, 8580, 8748, 8928, 9060, 9192, 9252, 9312, 9392, 9468, 9612, 9720]
s6442 = [500, 1100, 1184, 1680, 1832, 1940, 2228, 2312, 2408, 2528, 2720, 2840, 2888, 3128, 3360, 3620, 3752, 4016, 4064, 4184, 4424, 4460, 4532, 4568, 5148, 5256, 5400, 5556, 6444, 6612, 6732, 7032, 7236, 7320, 7380, 7632, 7704, 7908, 8160, 8256, 8436, 8592, 8640, 8724, 8796, 8852, 8904, 9504, 9564, 9852]
s6441 = [332, 368, 452, 572, 632, 764, 860, 968, 1016, 1220, 1484, 1544, 1784, 1868, 2480, 2912, 3224, 3860, 4052, 4292, 4628, 4652, 5292, 5792, 5940, 6120, 6612, 6960, 7308, 7608, 8208, 8568, 8852, 8904, 9180, 9624]
s6440 = [188, 344, 608, 908, 932, 1208, 1340, 1508, 1640, 2552, 2900, 2948, 3704, 3740, 3836, 4076, 4280, 4604, 4688, 4820, 4992, 5088, 5532, 5580, 5724, 6120, 6324, 6372, 7140, 7200, 7284, 8256, 8940, 8988, 9120, 9180, 9300, 9348]
s6439 = [260, 560, 1868, 2840, 3656, 3776, 4460, 4832, 6528, 6684, 6816, 7140, 8244, 8892, 8940, 9084, 9132, 9780]
s6438 = [260, 800, 1592, 2288, 2600, 3104, 3752, 4616, 5112, 6168, 6624, 6900, 7968, 7992, 8148, 8724, 9312]
s6437 = [80, 188, 2852, 3728, 4580, 6024, 6408, 6996, 7884, 8688]
s6436 = [548, 872, 3176, 4520, 4832, 5484, 6816, 6912, 7416, 9168, 9420]
s6435 = [1028, 2300, 5736, 7704, 8376, 8784]
s6434 = [3956, 4844, 8532, 8688, 9384, 9648]
s6433 = [3740]
s6432 = [6276, 9756]
s6431 = [5508, 9132]
s6430 = [3668]

levels = {
    6486: s6486, 6485: s6485, 6484: s6484, 6483: s6483, 6482: s6482, 6481: s6481, 6480: s6480,
    6479: s6479, 6478: s6478, 6477: s6477, 6476: s6476, 6475: s6475, 6474: s6474, 6473: s6473,
    6472: s6472, 6471: s6471, 6470: s6470, 6469: s6469, 6468: s6468, 6467: s6467, 6466: s6466,
    6465: s6465, 6464: s6464, 6463: s6463, 6462: s6462, 6461: s6461, 6460: s6460, 6459: s6459,
    6458: s6458, 6457: s6457, 6456: s6456, 6455: s6455, 6454: s6454, 6453: s6453, 6452: s6452,
    6451: s6451, 6450: s6450, 6449: s6449, 6448: s6448, 6447: s6447, 6446: s6446, 6445: s6445,
    6444: s6444, 6443: s6443, 6442: s6442, 6441: s6441, 6440: s6440, 6439: s6439, 6438: s6438,
    6437: s6437, 6436: s6436, 6435: s6435, 6434: s6434, 6433: s6433, 6432: s6432, 6431: s6431,
    6430: s6430,
}
df = pd.DataFrame(
    [{"sample": s, "adc": lvl, "series": "Samples"} for lvl, xs in levels.items() for s in xs]
)

FONT = "DejaVu Sans"
label_expr = "['Samples', '\u03bc = 6458.11, \u03c3 = 7.82']"

chart = (
    alt.Chart(df)
    .mark_circle(size=31, opacity=1)
    .encode(
        x=alt.X(
            "sample:Q",
            title="Sample #",
            scale=alt.Scale(domain=[-480, 10360], nice=False, zero=False),
            axis=alt.Axis(values=x_ticks, format="d", labelFlush=False, labelOverlap=False, titlePadding=6),
        ),
        y=alt.Y(
            "adc:Q",
            title="ADC Counts",
            scale=alt.Scale(domain=[6427.2, 6488.8], nice=False, zero=False),
            axis=alt.Axis(values=y_ticks, format="d", labelOverlap=False, titlePadding=9),
        ),
        color=alt.Color(
            "series:N",
            scale=alt.Scale(range=["#000000"]),
            legend=alt.Legend(
                title=None,
                orient="none",
                legendX=691,
                legendY=7,
                labelExpr=label_expr,
                labelLimit=400,
                fillColor="white",
                strokeColor="#cccccc",
                cornerRadius=3,
                padding=6,
                symbolSize=31,
                symbolType="M-1,3.96A1,1,0,1,1,1,3.96A1,1,0,1,1,-1,3.96Z",
                symbolStrokeWidth=0,
                symbolOffset=6,
                labelOffset=21,
                labelFont=FONT,
                labelFontSize=13.9,
                labelColor="black",
            ),
        ),
    )
    .properties(
        width=904,
        height=907,
        title=alt.TitleParams(title, font=FONT, fontSize=16.7, fontWeight="normal", color="black", offset=3),
        padding={"left": 73, "top": 27, "right": 7, "bottom": 50},
        autosize=alt.AutoSizeParams(type="none"),
    )
    .configure_view(stroke="black", strokeWidth=1.1)
    .configure_axis(
        grid=True,
        gridColor="#b0b0b0",
        gridWidth=0.8,
        domain=False,
        tickColor="black",
        tickSize=5,
        tickWidth=0.8,
        labelFont=FONT,
        labelFontSize=13.9,
        labelColor="black",
        titleFont=FONT,
        titleFontSize=13.9,
        titleFontWeight="normal",
        titleColor="black",
        labelPadding=4,
    )
)

chart.save("out.html", embed_options={"renderer": "svg", "actions": False})
